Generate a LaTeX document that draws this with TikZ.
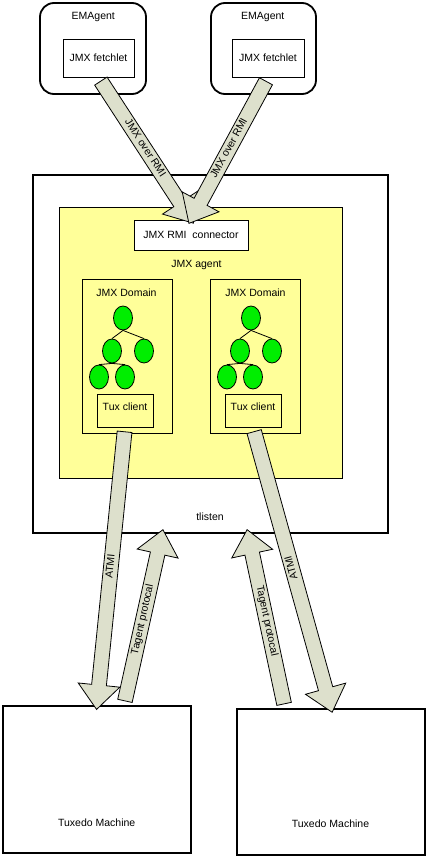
\documentclass[tikz,border=0pt]{standalone}
\usepackage{fontspec}
\setmainfont{Liberation Sans}
\usetikzlibrary{shapes.geometric,shapes.arrows,calc}

\definecolor{agentyellow}{RGB}{255,255,153}
\definecolor{beangreen}{RGB}{0,238,0}
\definecolor{arrowgray}{RGB}{221,224,204}

\tikzset{
  thickbox/.style={draw, line width=1.8pt, fill=white, inner sep=0pt},
  thinbox/.style={draw, line width=0.9pt, fill=white, inner sep=0pt},
  bean/.style={ellipse, draw, line width=0.8pt, fill=beangreen, minimum width=19pt, minimum height=24pt, inner sep=0pt},
  bigarrow/.style={single arrow, draw, line width=0.8pt, fill=arrowgray, minimum width=0pt,
    inner xsep=2pt, inner ysep=2.5pt, text height=7pt, text depth=2pt,
    single arrow head extend=13.5pt, single arrow tip angle=81, single arrow head indent=0pt},
  flip/.style={rotate=180, shape border rotate=180},
  plain/.style={inner sep=0pt}
}

% block arrow from #2 to #3, text #4
\newcommand{\blockarrow}[4][]{%
  \path let \p1=(#2), \p2=(#3), \n1={atan2(\y2-\y1,\x2-\x1)}, \n2={veclen(\x2-\x1,\y2-\y1)} in
    node[bigarrow, minimum height=\n2, rotate=\n1, #1] at ($(#2)!0.5!(#3)$) {#4};
}

\begin{document}
\begin{tikzpicture}[x=1pt, y=-1pt, font=\fontsize{10.5pt}{12pt}\selectfont]
  \useasboundingbox (0,0) rectangle (443,860);

  % tlisten box and JMX agent
  \node[thickbox, minimum width=355, minimum height=358] (tlisten) at (210.5,354) {};
  \node[plain] (tlistenText) at (210,517) {tlisten};
  \node[thinbox, fill=agentyellow, minimum width=283, minimum height=271] (agent) at (200.8,342.8) {};
  \node[plain] (agentText) at (196.5,265) {JMX agent};
  \node[thinbox, minimum width=114, minimum height=30] (rmi) at (191,235) {JMX RMI\ \ connector};

  % JMX domains
  \node[thinbox, fill=agentyellow, minimum width=90, minimum height=154] (dom1) at (127,356) {};
  \node[thinbox, fill=agentyellow, minimum width=90, minimum height=154] (dom2) at (255,356) {};
  \node[plain] (domText1) at (126.5,293) {JMX Domain};
  \node[plain] (domText2) at (255.5,293) {JMX Domain};

  % MBean trees
  \foreach \i/\dx in {1/0,2/128} {
    \node[bean] (tA\i) at (123+\dx,318) {};
    \node[bean] (tB\i) at (112+\dx,351) {};
    \node[bean] (tC\i) at (144+\dx,351) {};
    \node[bean] (tD\i) at (99+\dx,377) {};
    \node[bean] (tE\i) at (125+\dx,377) {};
    \draw[line width=0.8pt] (tA\i.south) -- (tB\i.north);
    \draw[line width=0.8pt] (tA\i.south) -- (tC\i.north);
    \draw[line width=0.8pt] (tB\i.south) -- (tD\i.north);
    \draw[line width=0.8pt] (tB\i.south) -- (tE\i.north);
  }

  % Tux clients
  \node[thinbox, fill=agentyellow, minimum width=56, minimum height=33, text height=8pt, text depth=8pt] (tux1) at (125,410.5) {Tux client};
  \node[thinbox, fill=agentyellow, minimum width=56, minimum height=33, text height=8pt, text depth=8pt] (tux2) at (253,410.5) {Tux client};

  % EM agents
  \node[thickbox, rounded corners=14pt, minimum width=106, minimum height=91] (em1) at (93,48.5) {};
  \node[thickbox, rounded corners=14pt, minimum width=105, minimum height=91] (em2) at (263.5,48.5) {};
  \node[plain] (emText1) at (93.3,16.7) {EMAgent};
  \node[plain] (emText2) at (262.8,16.7) {EMAgent};
  \node[thinbox, minimum width=71, minimum height=38] (fetch1) at (98.5,58) {JMX fetchlet};
  \node[thinbox, minimum width=72, minimum height=38] (fetch2) at (268,58) {JMX fetchlet};

  % Tuxedo machines
  \node[thickbox, minimum width=188, minimum height=147] (machine1) at (97,779.5) {};
  \node[thickbox, minimum width=188, minimum height=146] (machine2) at (331,782) {};
  \node[plain] (machineText1) at (96.7,822.3) {Tuxedo Machine};
  \node[plain] (machineText2) at (330.5,824) {Tuxedo Machine};

  % arrow ends
  \coordinate (tagTail1) at ($(machine1.north)+(27,0)$);
  \coordinate (tagTip1) at ($(tlisten.south)+(-48.5,0)$);
  \coordinate (tagTail2) at ($(machine2.north)+(-46,0)$);
  \coordinate (tagTip2) at ($(tlisten.south)+(37.5,0)$);

  % JMX over RMI
  \blockarrow[name=rmiArrow1]{fetch1.south}{rmi.north}{JMX over RMI}
  \blockarrow[name=rmiArrow2, flip]{fetch2.south}{rmi.north}{JMX over RMI}

  % ATMI and Tagent protocal
  \blockarrow[name=atmiArrow1, flip]{tux1.south}{machine1.north}{ATMI}
  \blockarrow[name=tagArrow1]{tagTail1}{tagTip1}{Tagent protocal}
  \blockarrow[name=tagArrow2, flip]{tagTail2}{tagTip2}{Tagent protocal}
  \blockarrow[name=atmiArrow2, flip]{tux2.south}{machine2.north}{ATMI}
\end{tikzpicture}
\end{document}
